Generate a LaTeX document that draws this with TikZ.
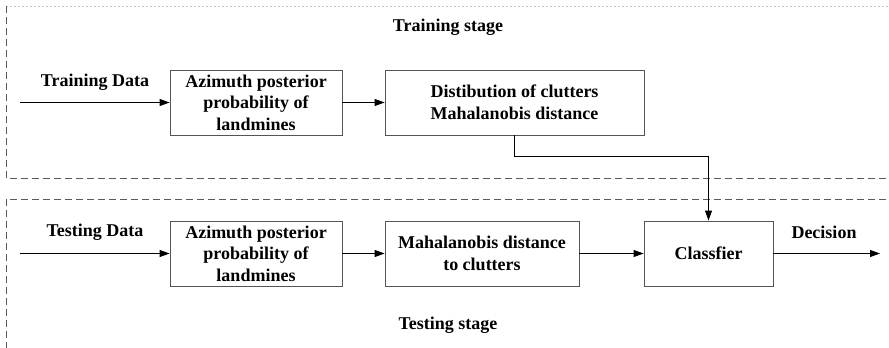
\documentclass[tikz,border=0pt]{standalone}
\usepackage{fontspec}
\setmainfont{Liberation Serif}
\usepackage{tikz}
\usetikzlibrary{arrows.meta,calc}
\definecolor{boxline}{HTML}{555555}
\definecolor{stageline}{HTML}{5a5a5a}

\begin{document}
\begin{tikzpicture}[x=1pt, y=-1pt, line width=0.9pt,
  every node/.style={font=\fontsize{18}{21.5}\selectfont\bfseries, align=center},
  blockbox/.style={draw=boxline, minimum height=65pt, inner sep=0pt},
  flow/.style={-{Triangle[length=10pt,width=7pt]}},
  stagebox/.style={stageline, dash pattern=on 7pt off 4pt}]

\useasboundingbox (0,0) rectangle (889,348);
\clip (0,0) rectangle (889,348);

% ---------------- stage frames --------------------------------------------
\draw[gray!45, dash pattern=on 2pt off 2pt] (6,6) -- (895,6);
\draw[stagebox] (6,6) -- (6,178) -- (895,178);
\draw[stagebox] (6,360) -- (6,199) -- (895,199);
\node (trainstage) at (448,27) {Training stage};
\node (teststage) at (448,325) {Testing stage};

% ---------------- training row --------------------------------------------
\node[blockbox, minimum width=172pt] (trainpost) at (256,102.5)
  {Azimuth posterior\\probability of\\landmines};
\node[blockbox, minimum width=259pt] (traindist) at (514.5,102.5)
  {Distibution of clutters\\Mahalanobis distance};
\coordinate (trainin) at (20,102.5);
\node (traindata) at (95,82) {Training Data};

% ---------------- testing row ---------------------------------------------
\node[blockbox, minimum width=172pt] (testpost) at (256,253.5)
  {Azimuth posterior\\probability of\\landmines};
\node[blockbox, minimum width=194pt] (testdist) at (482,253.5)
  {Mahalanobis distance\\to clutters};
\node[blockbox, minimum width=129pt] (classifier) at (708.5,253.5) {Classfier};
\coordinate (testin) at (20,253.5);
\coordinate (testout) at (880,253.5);
\node (testdata) at (95,232) {Testing Data};
\node (decision) at (824,232) {Decision};

% ---------------- arrows --------------------------------------------------
\draw[flow] (trainin) -- (trainpost);
\draw[flow] (trainpost) -- (traindist);
\draw[flow] (testin) -- (testpost);
\draw[flow] (testpost) -- (testdist);
\draw[flow] (testdist) -- (classifier);
\draw[flow] (classifier) -- (testout);
\draw[flow] (traindist.south) -- ++(0,21) -| (classifier.north);

\end{tikzpicture}
\end{document}
